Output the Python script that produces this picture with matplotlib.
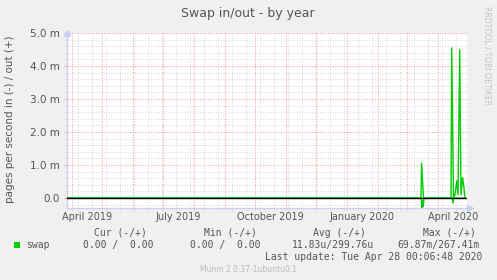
import matplotlib
matplotlib.use("Agg")
import matplotlib.pyplot as plt
from matplotlib.patches import Rectangle
import pandas as pd

# swap out (+) and swap in (-), in milli pages per second
out_times = ["2019-03-27 00:00", "2020-03-15 00:00", "2020-03-15 14:00", "2020-03-17 12:00",
             "2020-04-14 00:00", "2020-04-14 17:00", "2020-04-16 12:00", "2020-04-18 00:00",
             "2020-04-19 17:00", "2020-04-21 00:00", "2020-04-22 17:00", "2020-04-24 00:00",
             "2020-04-25 14:00", "2020-04-27 00:00", "2020-04-28 00:00"]
out_values = [0.0, 0.0, 1.06, 0.0,
              0.0, 4.55, 0.0, 0.1,
              0.52, 0.1, 4.5, 0.1,
              0.62, 0.3, 0.0]

in_times = ["2019-03-27 00:00", "2020-03-15 07:00", "2020-03-16 00:00", "2020-03-16 17:00",
            "2020-03-17 07:00", "2020-03-18 00:00", "2020-04-15 07:00", "2020-04-16 00:00",
            "2020-04-16 19:00", "2020-04-28 00:00"]
in_values = [0.0, 0.0, 0.3, 0.08,
             0.25, 0.0, 0.0, 0.15,
             0.0, 0.0]

month_labels = ["April 2019", "July 2019", "October 2019", "January 2020", "April 2020"]
label_dates = ["2019-04-16", "2019-07-16", "2019-10-16", "2020-01-16", "2020-04-16"]
y_ticks = [0.0, 1.0, 2.0, 3.0, 4.0, 5.0]
y_tick_labels = ["0.0", "1.0 m", "2.0 m", "3.0 m", "4.0 m", "5.0 m"]

legend_headers = ["Cur (-/+)", "Min (-/+)", "Avg (-/+)", "Max (-/+)"]
legend_values = ["0.00 /  0.00", "0.00 /  0.00", "11.83u/299.76u", "69.87m/267.41m"]

FONT = "#555555"
GREEN = "#00CC00"
AXIS = "#C8D0F5"
MAJOR = "#F2A0A0"
MINOR = "#DADADA"

W, H = 497, 280
fig = plt.figure(figsize=(W / 100, H / 100), dpi=100, facecolor="#F0F0F0")
left, right, top, bottom = 67, 467, 33, 208
ax = fig.add_axes([left / W, 1 - bottom / H, (right - left) / W, (bottom - top) / H])
ax.set_facecolor("white")

ax.set_xlim(pd.Timestamp("2019-03-27"), pd.Timestamp("2020-04-30"))
ax.set_ylim(-0.3, 5.0)

# grid: gray every two weeks / 0.2 m, red every month / 1.0 m
minor_x = pd.date_range("2019-04-07", "2020-04-30", freq="14D")
major_x = pd.date_range("2019-04-01", "2020-04-01", freq="MS")
minor_y = [i * 0.2 for i in range(-1, 26)]
for d in minor_x:
    ax.axvline(d, color=MINOR, lw=0.75, ls=(0, (1, 1.5)), zorder=1)
for v in minor_y:
    if abs(v - round(v)) > 1e-6:
        ax.axhline(v, color=MINOR, lw=0.75, ls=(0, (1, 1.5)), zorder=1)
for d in major_x:
    ax.axvline(d, color=MAJOR, lw=0.75, ls=(0, (1, 1.5)), zorder=2)
for v in y_ticks[1:]:
    ax.axhline(v, color=MAJOR, lw=0.75, ls=(0, (1, 1.5)), zorder=2)

# data
ax.plot(pd.to_datetime(in_times), [-v for v in in_values], color=GREEN, lw=1.0, zorder=3)
ax.plot(pd.to_datetime(out_times), out_values, color=GREEN, lw=1.0, zorder=3)
ax.axhline(0, color="black", lw=1.0, zorder=4)

# axes styling
for s in ("top", "right"):
    ax.spines[s].set_visible(False)
for s in ("left", "bottom"):
    ax.spines[s].set_color(AXIS)
    ax.spines[s].set_linewidth(1.0)

ax.set_yticks(y_ticks)
ax.set_yticklabels(y_tick_labels)
ax.set_yticks(minor_y, minor=True)
ax.set_xticks(pd.to_datetime(label_dates))
ax.set_xticklabels(month_labels)
ax.set_xticks(list(minor_x) + list(major_x), minor=True)
ax.tick_params(axis="y", which="major", length=2, color=MAJOR, labelsize=7.5, labelcolor=FONT, pad=3)
ax.tick_params(axis="y", which="minor", length=2, color=MINOR)
ax.tick_params(axis="x", which="major", length=0, labelsize=7, labelcolor=FONT, pad=3)
ax.tick_params(axis="x", which="minor", length=2, color=MINOR)

# arrows at the axis ends
ax.plot([0], [1.0], marker="^", ms=4, color=AXIS, transform=ax.transAxes, clip_on=False, zorder=5)
ax.plot([1.0075], [0], marker=">", ms=4, color=AXIS, transform=ax.transAxes, clip_on=False, zorder=5)

# texts
fig.text(248 / W, 1 - 14 / H, "Swap in/out - by year", ha="center", va="center", fontsize=9, color=FONT)
fig.text(10 / W, 1 - 119 / H, "pages per second in (-) / out (+)", rotation=90,
         ha="center", va="center", fontsize=7.5, color=FONT)
fig.text(487 / W, 1 - 56 / H, "RRDTOOL / TOBI OETIKER", rotation=270,
         ha="center", va="center", fontsize=5.6, color="#C4C4C4")

mono = "DejaVu Sans Mono"
header_x = [94, 204, 313, 423]
value_x = [83, 190.5, 291.5, 397.5]
for hx, h in zip(header_x, legend_headers):
    fig.text(hx / W, 1 - 232.5 / H, h, ha="left", va="center", fontsize=7, family=mono, color=FONT)
fig.add_artist(Rectangle((14 / W, 1 - 247.5 / H), 6 / W, 6 / H, transform=fig.transFigure,
                         facecolor=GREEN, edgecolor="none"))
fig.text(26.5 / W, 1 - 245 / H, "swap", ha="left", va="center", fontsize=7, family=mono, color=FONT)
for vx, v in zip(value_x, legend_values):
    fig.text(vx / W, 1 - 245 / H, v, ha="left", va="center", fontsize=7, family=mono, color=FONT)
fig.text(482 / W, 1 - 257 / H, "Last update: Tue Apr 28 00:06:48 2020", ha="right", va="center",
         fontsize=7, family=mono, color=FONT)
fig.text(248 / W, 1 - 269 / H, "Munin 2.0.37-1ubuntu0.1", ha="center", va="center",
         fontsize=5.5, color="#BBBBBB")

fig.savefig("out.png", dpi=100, facecolor=fig.get_facecolor())
